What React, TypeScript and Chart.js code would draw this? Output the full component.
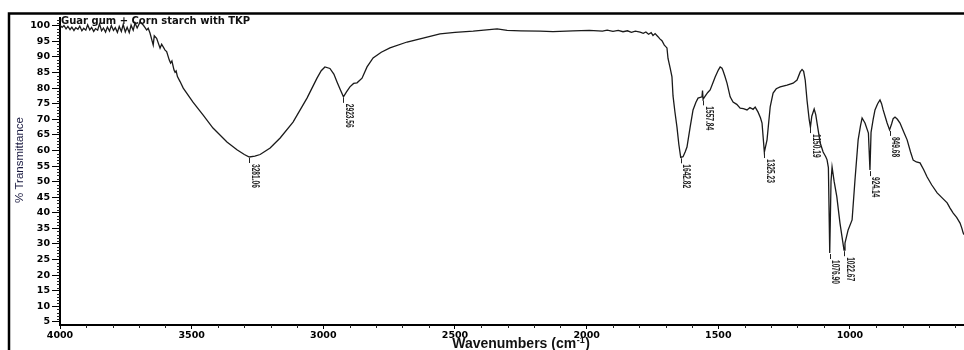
import React, { useEffect, useRef } from 'react';
import { Chart, registerables } from 'chart.js';

Chart.register(...registerables);

const chartTitle = 'Guar gum + Corn starch with TKP';
const yAxisTitle = '% Transmittance';
const xAxisTitleMain = 'Wavenumbers (cm';
const xAxisTitleSup = '-1';
const xAxisTitleEnd = ')';

const xTicks = [4000, 3500, 3000, 2500, 2000, 1500, 1000];
const yTicks = [5, 10, 15, 20, 25, 30, 35, 40, 45, 50, 55, 60, 65, 70, 75, 80, 85, 90, 95, 100];
const X_MIN = 567;
const X_MAX = 4000;
const Y_MIN = 4;
const Y_MAX = 102.5;

const wavenumbers = [
  4000, 3992, 3985, 3977, 3970, 3962, 3955, 3947, 3940, 3932, 3925, 3917, 3910, 3902, 3895, 3887,
  3880, 3872, 3865, 3857, 3850, 3842, 3835, 3827, 3820, 3812, 3805, 3797, 3790, 3782, 3775, 3767,
  3760, 3752, 3745, 3737, 3730, 3722, 3715, 3707, 3700, 3696,
  3684, 3677, 3671, 3665, 3658, 3646, 3642, 3633, 3620, 3614, 3601, 3595, 3585, 3580, 3575, 3567,
  3563, 3559, 3554, 3544, 3532, 3495, 3457, 3419, 3366, 3328, 3300, 3281.06, 3260, 3240, 3202, 3164,
  3115, 3062, 3024, 3008, 2994, 2975, 2960, 2948, 2935, 2923.56, 2912, 2899, 2885, 2872, 2853, 2834,
  2811, 2780, 2747, 2682, 2606, 2557, 2500, 2431, 2380, 2340, 2302, 2250, 2177, 2128, 2052, 1990,
  1940, 1922, 1900, 1880, 1862, 1845, 1830, 1815, 1797, 1785, 1775, 1765, 1755, 1748, 1740, 1729,
  1722, 1714, 1705, 1695, 1691, 1683, 1676, 1672, 1665, 1657, 1650, 1642.82, 1634, 1626, 1619, 1607,
  1596, 1585, 1577, 1562, 1560, 1557.84, 1550, 1540, 1531, 1520, 1512, 1500, 1493, 1486, 1482, 1475,
  1467, 1455, 1444, 1430, 1417, 1405, 1391, 1380, 1368, 1360, 1349, 1340, 1334, 1325.23, 1315, 1303,
  1292, 1280, 1265, 1239, 1216, 1201, 1189, 1182, 1176, 1170, 1163, 1155, 1150.19, 1145, 1136, 1130,
  1125, 1113, 1102, 1092, 1087, 1082, 1076.9, 1072, 1068, 1060, 1050, 1038, 1022.67, 1019, 1007, 992,
  981, 969, 960, 954, 943, 930, 924.14, 920, 912, 905, 895, 886, 880, 874, 865, 859,
  849.68, 842, 836, 829, 820, 810, 795, 783, 770, 760, 748, 734, 720, 707, 690, 669,
  650, 631, 620, 608, 595, 582, 575, 570, 567,
];

const transmittance = [
  100.2, 99.5, 100.1, 99.0, 99.8, 98.8, 99.6, 98.5, 99.4, 98.9, 99.9, 98.4, 99.2, 98.6, 100.3, 98.7,
  99.5, 98.2, 99.1, 98.6, 100.6, 98.4, 99.3, 98.0, 99.6, 98.3, 100.1, 98.5, 99.4, 97.9, 99.8, 98.2,
  100.4, 98.0, 99.5, 97.8, 100.2, 98.6, 100.9, 99.3, 100.5, 101.2,
  100.25, 99.4, 98.65, 99.2, 97.6, 93.8, 96.8, 96.0, 92.8, 94.1, 92.2, 91.7, 89.0, 88.0, 88.7, 85.8,
  85.1, 85.5, 83.7, 82.1, 80.0, 75.5, 71.4, 67.2, 62.7, 60.2, 58.7, 57.9, 58.2, 58.7, 60.8, 64.0,
  69.1, 76.8, 83.2, 85.6, 86.8, 86.3, 84.5, 82.0, 79.4, 77.2, 78.8, 80.4, 81.5, 81.7, 83.2, 86.8,
  89.7, 91.5, 92.9, 94.8, 96.4, 97.4, 97.9, 98.3, 98.7, 99.0, 98.5, 98.4, 98.3, 98.1, 98.4, 98.5,
  98.3, 98.6, 98.2, 98.5, 98.1, 98.4, 97.9, 98.3, 98.0, 97.6, 98.0, 97.3, 97.8, 96.9, 97.5, 96.5,
  95.8, 95.2, 93.8, 92.9, 89.5, 86.5, 83.6, 77.5, 72.5, 67.5, 62.0, 57.8, 58.0, 59.5, 61.1, 67.5,
  73.0, 75.5, 76.8, 77.2, 79.2, 76.4, 77.4, 78.6, 79.4, 81.8, 83.6, 85.8, 86.8, 86.4, 85.6, 83.8,
  81.6, 77.2, 75.5, 74.8, 73.6, 73.4, 73.0, 73.8, 73.2, 73.9, 72.3, 70.5, 68.8, 59.5, 63.4, 74.0,
  78.4, 79.8, 80.4, 81.0, 81.6, 82.6, 85.2, 86.0, 85.4, 82.6, 76.0, 70.0, 67.5, 71.0, 73.3, 71.5,
  68.8, 62.4, 59.5, 58.0, 57.0, 54.5, 27.1, 50.0, 54.7, 50.0, 45.2, 36.7, 28.0, 30.3, 34.5, 37.7,
  50.5, 63.4, 68.0, 70.4, 68.8, 65.6, 53.7, 65.8, 70.0, 73.0, 75.0, 76.2, 75.0, 73.0, 70.5, 68.8,
  66.6, 68.5, 70.2, 70.7, 70.0, 68.8, 65.8, 63.4, 59.5, 56.9, 56.3, 56.0, 53.8, 51.5, 49.0, 46.4,
  44.8, 43.2, 41.5, 39.9, 38.5, 36.7, 35.0, 33.5, 33.0,
];

const peakWavenumbers = [3281.06, 2923.56, 1642.82, 1557.84, 1325.23, 1150.19, 1076.9, 1022.67, 924.14, 849.68];
const peakLabels = ['3281.06', '2923.56', '1642.82', '1557.84', '1325.23', '1150.19', '1076.90', '1022.67', '924.14', '849.68'];

const decorPlugin = {
  id: 'decor',
  beforeDraw(chart: any) {
    const ctx = chart.ctx;
    ctx.save();
    ctx.fillStyle = '#ffffff';
    ctx.fillRect(0, 0, chart.width, chart.height);
    ctx.restore();
  },
  afterDraw(chart: any) {
    const ctx = chart.ctx;
    const xs = chart.scales.x;
    const ys = chart.scales.y;
    const area = chart.chartArea;
    ctx.save();

    // outer frame
    ctx.strokeStyle = '#000';
    ctx.lineWidth = 2.5;
    ctx.beginPath();
    ctx.moveTo(9, chart.height);
    ctx.lineTo(9, 13.5);
    ctx.lineTo(chart.width, 13.5);
    ctx.stroke();

    // minor ticks
    ctx.lineWidth = 1;
    ctx.strokeStyle = '#222';
    ctx.beginPath();
    for (let v = 5; v <= 102; v++) {
      if (v % 5 === 0) continue;
      const py = Math.round(ys.getPixelForValue(v)) + 0.5;
      ctx.moveTo(area.left - 3, py);
      ctx.lineTo(area.left, py);
    }
    for (let v = 600; v < 4000; v += 100) {
      if (v % 500 === 0) continue;
      const px = Math.round(xs.getPixelForValue(v)) + 0.5;
      ctx.moveTo(px, area.bottom);
      ctx.lineTo(px, area.bottom + 3);
    }
    ctx.stroke();

    // in-plot title
    ctx.fillStyle = '#111';
    ctx.font = 'bold 10px "DejaVu Sans"';
    ctx.textAlign = 'left';
    ctx.textBaseline = 'middle';
    ctx.fillText(chartTitle, area.left + 1, 21);

    // peak labels
    ctx.strokeStyle = '#222';
    ctx.fillStyle = '#222';
    peakWavenumbers.forEach((wn, i) => {
      const idx = wavenumbers.indexOf(wn);
      const val = transmittance[idx];
      const px = xs.getPixelForValue(wn);
      const py = ys.getPixelForValue(val);
      ctx.beginPath();
      ctx.moveTo(Math.round(px) + 0.5, py + 1);
      ctx.lineTo(Math.round(px) + 0.5, py + 6);
      ctx.stroke();
      ctx.save();
      ctx.translate(px + 2.5, py + 7);
      ctx.rotate(Math.PI / 2);
      ctx.scale(0.66, 1);
      ctx.font = 'bold 10px "Liberation Sans"';
      ctx.textAlign = 'left';
      ctx.textBaseline = 'alphabetic';
      ctx.fillText(peakLabels[i], 0, 0);
      ctx.restore();
    });

    // y axis title
    ctx.save();
    ctx.translate(20, 160);
    ctx.rotate(-Math.PI / 2);
    ctx.fillStyle = '#1a1a40';
    ctx.font = '11.5px "Liberation Sans"';
    ctx.textAlign = 'center';
    ctx.textBaseline = 'middle';
    ctx.fillText(yAxisTitle, 0, 0);
    ctx.restore();

    // x axis title
    ctx.fillStyle = '#111';
    ctx.textAlign = 'left';
    ctx.textBaseline = 'alphabetic';
    const mainFont = 'bold 14px "Liberation Sans"';
    const supFont = 'bold 9px "Liberation Sans"';
    ctx.font = mainFont;
    const w1 = ctx.measureText(xAxisTitleMain).width;
    const w3 = ctx.measureText(xAxisTitleEnd).width;
    ctx.font = supFont;
    const w2 = ctx.measureText(xAxisTitleSup).width;
    const total = w1 + w2 + w3 + 1;
    let tx = 521 - total / 2;
    const base = 348;
    ctx.font = mainFont;
    ctx.fillText(xAxisTitleMain, tx, base);
    tx += w1;
    ctx.font = supFont;
    ctx.fillText(xAxisTitleSup, tx + 0.5, base - 5);
    tx += w2 + 1;
    ctx.font = mainFont;
    ctx.fillText(xAxisTitleEnd, tx, base);

    ctx.restore();
  },
};

export default function App() {
  const canvasRef = useRef<HTMLCanvasElement | null>(null);

  useEffect(() => {
    if (!canvasRef.current) return;
    const points = wavenumbers.map((w, i) => ({ x: w, y: transmittance[i] }));
    const tickFont = { family: '"DejaVu Sans"', size: 9.5, weight: 'bold' as const };
    const chart = new Chart(canvasRef.current, {
      type: 'line',
      data: {
        datasets: [
          {
            data: points,
            borderColor: '#1a1a1a',
            borderWidth: 1.3,
            pointRadius: 0,
            tension: 0,
            fill: false,
          },
        ],
      },
      options: {
        animation: false,
        responsive: false,
        layout: { padding: { top: 18, left: 0, right: 0, bottom: 0 } },
        plugins: { legend: { display: false }, tooltip: { enabled: false }, title: { display: false } },
        scales: {
          x: {
            type: 'linear',
            reverse: true,
            min: X_MIN,
            max: X_MAX,
            afterBuildTicks: (s: any) => {
              s.ticks = xTicks.map((v) => ({ value: v }));
            },
            afterFit: (s: any) => {
              s.height = 25;
            },
            grid: { drawOnChartArea: false, drawTicks: true, tickLength: 4, color: '#000', lineWidth: 1 },
            border: { display: true, color: '#000', width: 2 },
            ticks: {
              font: tickFont,
              color: '#000',
              padding: 1,
              maxRotation: 0,
              autoSkip: false,
              callback: (v: any) => String(v),
            },
          },
          y: {
            type: 'linear',
            min: Y_MIN,
            max: Y_MAX,
            afterBuildTicks: (s: any) => {
              s.ticks = yTicks.map((v) => ({ value: v }));
            },
            afterFit: (s: any) => {
              s.width = 60;
            },
            grid: { drawOnChartArea: false, drawTicks: true, tickLength: 8, color: '#000', lineWidth: 1 },
            border: { display: true, color: '#000', width: 2 },
            ticks: {
              font: tickFont,
              color: '#000',
              padding: 2,
              autoSkip: false,
              callback: (v: any) => String(v),
            },
          },
        },
      },
      plugins: [decorPlugin],
    });
    return () => chart.destroy();
  }, []);

  return (
    <div style={{ position: 'fixed', left: 0, top: 0, width: 964, height: 350, background: '#fff' }}>
      <canvas ref={canvasRef} width={964} height={350} style={{ display: 'block' }} />
    </div>
  );
}
